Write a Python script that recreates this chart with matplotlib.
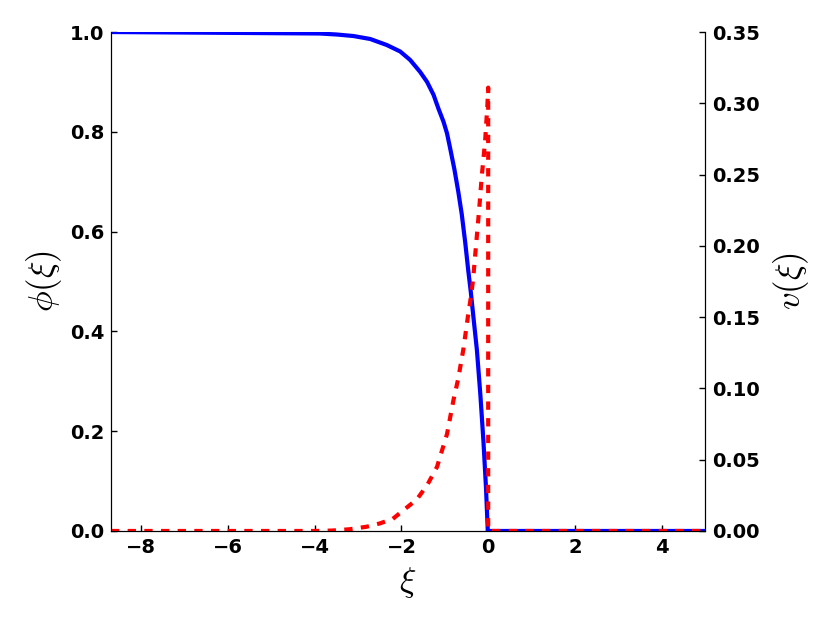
import numpy as np
import matplotlib
matplotlib.use('Agg')
import matplotlib.pyplot as plt
from matplotlib.ticker import FormatStrFormatter

# values
xi_phi = [-8.7, -3.88, -3.49, -3.11, -2.72, -2.34, -2.03, -1.80, -1.57, -1.41,
          -1.26, -1.15, -1.03, -0.95, -0.88, -0.78, -0.69, -0.61, -0.53, -0.46,
          -0.40, -0.34, -0.26, -0.18, -0.11, -0.05, -0.01, 5.0]
phi = [1.0, 0.997, 0.995, 0.992, 0.986, 0.974, 0.961, 0.944, 0.920, 0.900,
       0.874, 0.847, 0.820, 0.797, 0.768, 0.725, 0.680, 0.635, 0.578, 0.522,
       0.478, 0.428, 0.362, 0.272, 0.180, 0.085, 0.0, 0.0]

xi_v = [-8.7, -4.0, -3.6, -3.2, -2.8, -2.5, -2.2, -1.95, -1.65, -1.41, -1.18,
        -0.95, -0.80, -0.69, -0.57, -0.47, -0.40, -0.35, -0.28, -0.21, -0.15,
        -0.11, -0.07, -0.02, 0.0, 0.0, 5.0]
v = [0.0, 0.0, 0.0003, 0.0012, 0.003, 0.0053, 0.0085, 0.0147, 0.022, 0.032, 0.045,
     0.068, 0.092, 0.107, 0.128, 0.150, 0.164, 0.176, 0.2006, 0.225, 0.2485,
     0.261, 0.274, 0.298, 0.311, 0.0, 0.0]

plt.rcParams['mathtext.fontset'] = 'cm'
plt.rcParams['lines.scale_dashes'] = False
plt.rcParams['font.weight'] = 'bold'

fig = plt.figure(figsize=(8.3, 6.23), dpi=100)
ax = fig.add_axes([0.1337, 0.1477, 0.7157, 0.8009])
ax2 = ax.twinx()

ax.plot(xi_phi, phi, color='#0000ff', lw=3, zorder=3)
ax2.plot(xi_v, v, color='#ff0000', lw=3, linestyle=(0, (6, 6)))

ax.set_xlim(-8.7, 5.0)
ax.set_ylim(0, 1.0)
ax2.set_ylim(0, 0.35)
ax.set_xticks(np.arange(-8, 5, 2))
ax.set_yticks(np.arange(0, 1.01, 0.2))
ax2.set_yticks(np.arange(0, 0.351, 0.05))
ax.yaxis.set_major_formatter(FormatStrFormatter('%.1f'))
ax2.yaxis.set_major_formatter(FormatStrFormatter('%.2f'))

for a in (ax, ax2):
    a.spines['top'].set_visible(False)
    a.tick_params(direction='in', length=4, width=1, labelsize=14, pad=5)
    for lab in a.get_xticklabels() + a.get_yticklabels():
        lab.set_fontweight('bold')
ax.tick_params(axis='x', top=False)
ax.tick_params(axis='y', right=False)
ax2.tick_params(axis='y', left=False)

ax.set_xlabel(r'$\xi$', fontsize=25, labelpad=6)
ax.set_ylabel(r'$\phi(\xi)$', fontsize=25, labelpad=4)
ax2.set_ylabel(r'$v(\xi)$', fontsize=25, rotation=90, labelpad=8)

fig.savefig('out.png', dpi=100)
